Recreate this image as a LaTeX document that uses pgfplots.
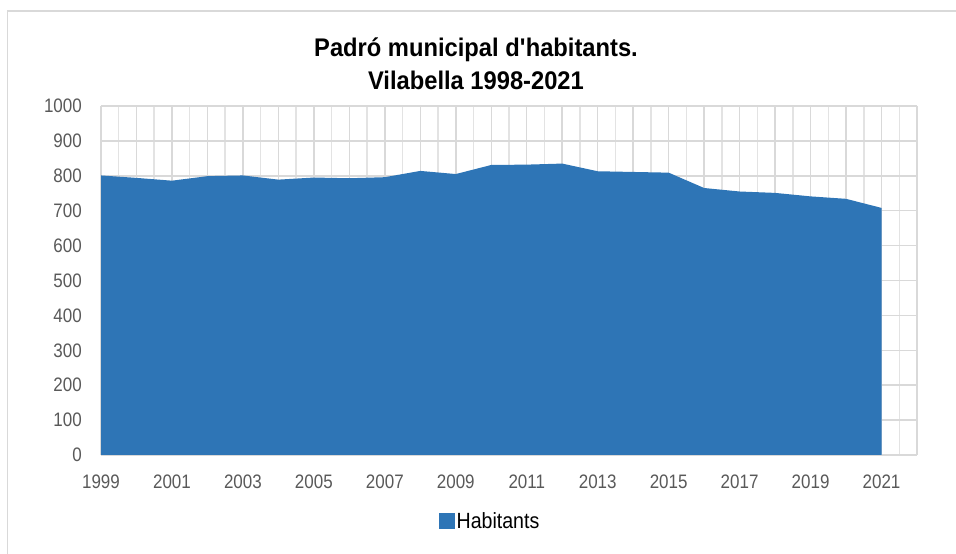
\documentclass[border=0pt]{standalone}
\usepackage{fontspec}
\setmainfont{Liberation Sans}
\newfontfamily\titlefont{Liberation Sans}[FakeStretch=0.93]
\newfontfamily\tickfont{Liberation Sans}[FakeStretch=0.87]
\newfontfamily\legfont{Liberation Sans}[FakeStretch=0.89]
\usepackage{pgfplots}
\pgfplotsset{compat=1.18}
\definecolor{areablue}{HTML}{2E75B6}
\definecolor{gridmaj}{HTML}{D9D9D9}
\definecolor{gridmin}{HTML}{E3E3E3}
\definecolor{ticktext}{HTML}{595959}
\begin{document}
\begin{tikzpicture}
\path[use as bounding box] (0,0) rectangle (956bp,554bp);
\draw[gridmaj, line width=1.5bp] (7.5bp,0) -- (7.5bp,543bp) -- (956bp,543bp);
\node[anchor=base, font=\fontsize{25.5bp}{28bp}\titlefont\bfseries] at (476bp,497bp) {Padró municipal d\textquotesingle habitants.};
\node[anchor=base, font=\fontsize{25.5bp}{28bp}\titlefont\bfseries] at (476bp,464bp) {Vilabella 1998-2021};
\begin{axis}[
  at={(101bp,99bp)}, anchor=south west,
  scale only axis, width=816bp, height=349bp,
  xmin=1999, xmax=2022, ymin=0, ymax=1000,
  xtick={1999,2000,...,2022},
  xticklabels={1999,,2001,,2003,,2005,,2007,,2009,,2011,,2013,,2015,,2017,,2019,,2021,},
  minor xtick={1999.5,2000.5,...,2021.5},
  ytick={0,100,...,1000},
  major tick length=0pt, minor tick length=0pt,
  xmajorgrids, xminorgrids, ymajorgrids,
  major grid style={gridmaj, line width=1.5bp},
  minor grid style={gridmin, line width=1.5bp},
  axis line style={draw=none},
  /pgf/number format/assume math mode=true,
  /pgf/number format/1000 sep={},
  ticklabel style={font=\fontsize{19.5bp}{21bp}\tickfont, text=ticktext},
  yticklabel style={anchor=east, inner sep=0pt, xshift=-19bp},
  xticklabel style={anchor=north, inner sep=0pt, yshift=-20bp},
  legend style={at={(0.477,-0.189)}, anchor=center, draw=none, fill=none,
    font=\fontsize{22bp}{24bp}\legfont, inner sep=0pt,
    /tikz/every even column/.append style={column sep=2bp}},
  legend image code/.code={\fill[areablue] (0bp,-8bp) rectangle (15.5bp,7.5bp);},
]
\addplot[fill=areablue, draw=none] coordinates {
(1999,801) (2000,794) (2001,786) (2002,799) (2003,801) (2004,789)
(2005,795) (2006,793) (2007,796) (2008,814) (2009,805) (2010,831)
(2011,832) (2012,835) (2013,813) (2014,811) (2015,809) (2016,765)
(2017,755) (2018,751) (2019,741) (2020,734) (2021,708)
} \closedcycle;
\addlegendentry{Habitants}
\draw[gridmaj, line width=1.5bp] ([yshift=-0.75bp]axis cs:1999,0) -- ([yshift=-0.75bp]axis cs:2022,0);
\end{axis}
\end{tikzpicture}
\end{document}
